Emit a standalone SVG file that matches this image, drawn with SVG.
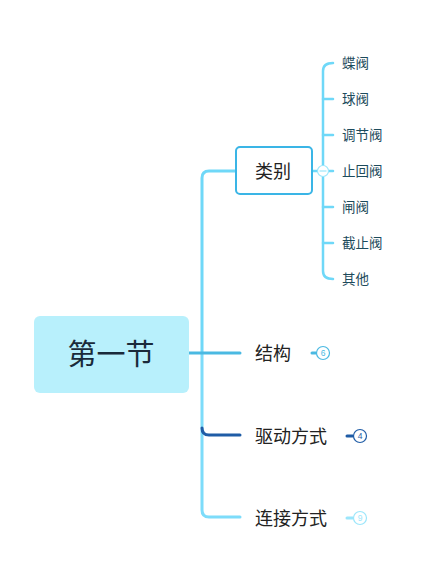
<svg xmlns="http://www.w3.org/2000/svg" width="440" height="587" viewBox="0 0 440 587">
<style>
.t{font-family:"Noto Sans CJK SC","Liberation Sans",sans-serif;}
.leaf{font-size:13.5px;fill:#1d4b5c;}
.main{font-size:18px;fill:#222;}
.c{fill:none;stroke-linecap:round;}
.badge{fill:#fff;stroke-width:1.2;}
.bt{font-family:"Liberation Sans",sans-serif;font-size:8.5px;text-anchor:middle;}
</style>
<rect width="440" height="587" fill="#fff"/>
<g id="connectors">
  <path class="c" d="M202 353 L202 178 Q202 171 209 171 L236 171" stroke="#6fd8f8" stroke-width="3"/>
  <path class="c" d="M202 353 L202 510 Q202 517 209 517 L240 517" stroke="#7ddcfa" stroke-width="3"/>
  <path class="c" d="M189 353 L240 353" stroke="#4ab9e2" stroke-width="3"/>
  <path class="c" d="M202 428 Q202 435 209 435 L240 435" stroke="#1f5ca6" stroke-width="3"/>
  <path class="c" d="M312 171 L333 171" stroke="#6fd8f8" stroke-width="2.5"/>
  <path class="c" d="M333 63 Q323 63 323 71 L323 271 Q323 279 333 279" stroke="#6fd8f8" stroke-width="2.5"/>
  <path class="c" d="M323 99 L333 99 M323 135 L333 135 M323 207 L333 207 M323 243 L333 243" stroke="#6fd8f8" stroke-width="2.5"/>
  <path class="c" d="M312 353 L316 353" stroke="#4ab9e2" stroke-width="3"/>
  <path class="c" d="M347 436 L353 436" stroke="#1f5ca6" stroke-width="3"/>
  <path class="c" d="M347 518 L353 518" stroke="#9be6fb" stroke-width="3"/>
</g>
<g id="root">
  <rect x="34" y="316" width="155" height="77" rx="6" fill="#b8f0fc"/>
  <text class="t" x="111" y="365" font-size="29" fill="#1a2a3a" text-anchor="middle">第一节</text>
</g>
<g id="n-leibie">
  <rect x="236" y="147" width="76" height="47" rx="4" fill="#fff" stroke="#3ab5e6" stroke-width="2"/>
  <text class="t" x="273" y="177.5" font-size="18" fill="#222" text-anchor="middle">类别</text>
  <circle cx="323" cy="171" r="5.5" fill="#fff" stroke="#9be6fb" stroke-width="1.2"/>
  <path d="M319.5 171 L326.5 171" stroke="#9be6fb" stroke-width="1.2"/>
</g>
<g id="leaves">
  <text class="t leaf" x="342" y="68">蝶阀</text>
  <text class="t leaf" x="342" y="104">球阀</text>
  <text class="t leaf" x="342" y="140">调节阀</text>
  <text class="t leaf" x="342" y="176">止回阀</text>
  <text class="t leaf" x="342" y="212">闸阀</text>
  <text class="t leaf" x="342" y="248">截止阀</text>
  <text class="t leaf" x="342" y="284">其他</text>
</g>
<g id="n-jiegou">
  <text class="t main" x="255" y="359.5">结构</text>
  <circle class="badge" cx="323" cy="353" r="6.5" stroke="#4ab9e2"/>
  <text class="bt" x="323" y="356" fill="#4ab9e2">6</text>
</g>
<g id="n-qudong">
  <text class="t main" x="255" y="442.5">驱动方式</text>
  <circle class="badge" cx="360" cy="436" r="6.5" stroke="#1f5ca6"/>
  <text class="bt" x="360" y="439" fill="#1f5ca6">4</text>
</g>
<g id="n-lianjie">
  <text class="t main" x="255" y="524.5">连接方式</text>
  <circle class="badge" cx="360" cy="518" r="6.5" stroke="#9be6fb"/>
  <text class="bt" x="360" y="521" fill="#9be6fb">9</text>
</g>
</svg>
